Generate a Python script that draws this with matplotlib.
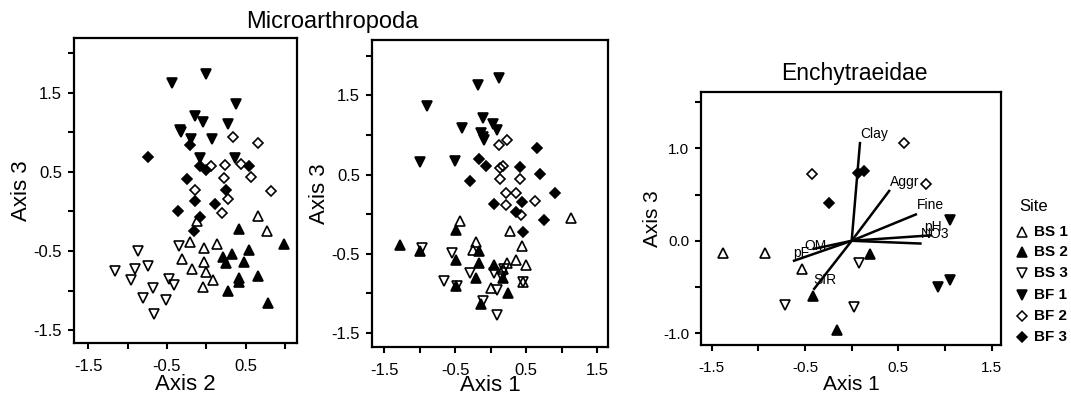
import matplotlib
matplotlib.use('Agg')
import matplotlib.pyplot as plt
from matplotlib.lines import Line2D

plt.rcParams['font.family'] = ['Liberation Sans', 'DejaVu Sans']
plt.rcParams['axes.unicode_minus'] = False

# Sites and their symbols
sites = ['BS 1', 'BS 2', 'BS 3', 'BF 1', 'BF 2', 'BF 3']
markers = ['^', '^', 'v', 'v', 'D', 'D']
filled = [False, True, False, True, False, True]

# Microarthropoda: Axis 2 (x) vs Axis 3 (y), one list per site
p1_x = [
    [0.66, 0.77, -0.21, -0.03, 0.13, -0.31, -0.03, -0.18, 0.00, 0.08, -0.04, -0.12],
    [0.42, 0.98, 0.54, 0.21, 0.32, 0.25, 0.48, 0.66, 0.42, 0.41, 0.28, 0.78],
    [-1.16, -0.87, -0.74, -0.90, -0.96, -0.68, -0.80, -0.51, -0.66, -0.47, -0.41, -0.35],
    [-0.43, -0.01, 0.38, -0.15, -0.04, 0.28, -0.34, -0.32, -0.20, 0.07, -0.08, 0.36],
    [0.34, 0.65, 0.06, 0.24, 0.44, 0.23, 0.56, -0.14, 0.82, 0.27, 0.20],
    [-0.74, -0.21, -0.08, 0.00, -0.24, 0.54, 0.25, -0.14, 0.11, -0.36, -0.08, -0.16],
]
p1_y = [
    [-0.06, -0.25, -0.38, -0.46, -0.41, -0.60, -0.64, -0.73, -0.77, -0.87, -0.95, -0.12],
    [-0.22, -0.41, -0.48, -0.58, -0.54, -0.65, -0.64, -0.82, -0.84, -0.89, -1.00, -1.16],
    [-0.75, -0.50, -0.69, -0.73, -0.87, -0.97, -1.09, -1.12, -1.29, -0.85, -0.93, -0.44],
    [1.62, 1.73, 1.36, 1.21, 1.13, 1.10, 1.03, 1.00, 0.92, 0.92, 0.68, 0.67],
    [0.94, 0.86, 0.58, 0.59, 0.60, 0.42, 0.43, 0.27, 0.26, 0.16, -0.02],
    [0.69, 0.84, 0.57, 0.52, 0.41, 0.57, 0.27, 0.13, 0.10, 0.01, -0.07, -0.25],
]

# Microarthropoda: Axis 1 (x) vs Axis 3 (y)
p2_x = [
    [-0.43, 1.13, 0.27, -0.21, -0.25, 0.44, 0.36, 0.50, 0.23, 0.01, 0.45, 0.18],
    [-1.27, -1.00, -0.49, -0.49, -0.17, -0.16, -0.21, 0.05, 0.18, 0.24, -0.14, -0.49],
    [-0.97, -0.55, -0.66, -0.29, 0.04, 0.19, 0.09, -0.11, 0.09, 0.45, -0.48, 0.16],
    [-0.90, -0.40, -0.18, 0.12, -0.11, 0.03, 0.09, -0.13, -0.10, -0.99, -0.50, -0.11],
    [0.23, 0.11, 0.18, 0.13, 0.13, 0.41, 0.21, 0.36, 0.21, 0.62, 0.42],
    [0.65, 0.69, 0.41, -0.17, -0.06, -0.29, 0.04, 0.44, 0.36, 0.91, 0.75, 0.46],
]
p2_y = [
    [-0.09, -0.05, -0.22, -0.35, -0.45, -0.40, -0.58, -0.64, -0.62, -0.93, -0.86, -0.70],
    [-0.39, -0.47, -0.20, -0.58, -0.47, -0.62, -0.81, -0.64, -0.81, -1.00, -1.14, -0.91],
    [-0.43, -0.49, -0.84, -0.75, -0.75, -0.69, -0.96, -1.10, -1.28, -0.86, -0.91, -0.79],
    [1.37, 1.09, 1.63, 1.72, 1.22, 1.14, 1.06, 1.03, 0.93, 0.66, 0.67, 0.98],
    [0.94, 0.87, 0.61, 0.58, 0.44, 0.44, 0.27, 0.27, 0.11, 0.17, -0.01],
    [0.84, 0.51, 0.59, 0.70, 0.61, 0.42, 0.13, 0.15, 0.02, 0.27, -0.07, -0.23],
]

# Enchytraeidae: Axis 1 (x) vs Axis 3 (y)
p3_x = [
    [-1.38, -0.93, -0.53],
    [0.20, -0.41, -0.16],
    [-0.71, 0.08, 0.02],
    [1.05, 0.93, 1.05],
    [-0.42, 0.56, 0.80],
    [-0.24, 0.07, 0.13],
]
p3_y = [
    [-0.13, -0.13, -0.31],
    [-0.14, -0.60, -0.96],
    [-0.69, -0.24, -0.72],
    [0.23, -0.50, -0.42],
    [0.72, 1.06, 0.61],
    [0.41, 0.73, 0.76],
]

# Environmental vectors (biplot)
env_names = ['Clay', 'Aggr', 'Fine', 'pH', 'NO3', 'OM', 'pF', 'SIR']
env_x = [0.09, 0.41, 0.70, 0.86, 0.75, -0.42, -0.63, -0.41]
env_y = [1.07, 0.55, 0.29, 0.06, -0.03, -0.09, -0.22, -0.53]
env_lx = [0.24, 0.57, 0.84, 0.87, 0.89, -0.39, -0.54, -0.29]
env_ly = [1.16, 0.64, 0.39, 0.15, 0.07, -0.06, -0.13, -0.42]


def draw_sites(ax, xs, ys, tri_size, dia_size):
    for i in range(len(sites)):
        ms = dia_size if markers[i] == 'D' else tri_size
        ax.plot(xs[i], ys[i], linestyle='none', marker=markers[i], ms=ms,
                mfc='black' if filled[i] else 'none', mec='black', mew=1.2)


def style_axes(ax, xticks, xlab, yticks, ylab, size):
    ax.set_xticks(xticks)
    ax.set_xticklabels(xlab)
    ax.set_yticks(yticks)
    ax.set_yticklabels(ylab)
    ax.tick_params(direction='out', length=4.5, width=1.5, labelsize=size)
    ax.tick_params(axis='x', pad=7)
    ax.tick_params(axis='y', pad=4)
    for s in ax.spines.values():
        s.set_linewidth(1.6)


fig = plt.figure(figsize=(10.71, 3.98), dpi=100)

ticks = [-1.5, -1.0, -0.5, 0.0, 0.5, 1.0, 1.5, 2.0]
odd = ['-1.5', '', '-0.5', '', '0.5', '', '1.5', '']

# Panel 1
ax1 = fig.add_axes([0.0691, 0.1382, 0.2082, 0.7663])
draw_sites(ax1, p1_x, p1_y, 7.6, 5.4)
ax1.set_xlim(-1.68, 1.15)
ax1.set_ylim(-1.66, 2.19)
style_axes(ax1, ticks[:6], odd[:6], ticks, odd, 12)
ax1.set_xlabel('Axis 2', fontsize=16, labelpad=0)
ax1.set_ylabel('Axis 3', fontsize=16, labelpad=1)

# Panel 2
ax2 = fig.add_axes([0.3473, 0.1281, 0.2204, 0.7714])
draw_sites(ax2, p2_x, p2_y, 7.6, 5.4)
ax2.set_xlim(-1.67, 1.65)
ax2.set_ylim(-1.68, 2.20)
style_axes(ax2, ticks[:7], odd[:7], ticks, odd, 12)
ax2.set_xlabel('Axis 1', fontsize=16, labelpad=-2)
ax2.set_ylabel('Axis 3', fontsize=16, labelpad=1)

fig.text(0.3105, 0.9296, 'Microarthropoda', fontsize=17, ha='center', va='baseline')

# Panel 3
ax3 = fig.add_axes([0.6545, 0.1332, 0.2801, 0.6357])
for i in range(len(env_names)):
    ax3.plot([0, env_x[i]], [0, env_y[i]], color='black', lw=1.8, solid_capstyle='butt')
    ax3.text(env_lx[i], env_ly[i], env_names[i], fontsize=10, ha='center', va='center')
draw_sites(ax3, p3_x, p3_y, 7.0, 5.0)
ax3.set_xlim(-1.615, 1.60)
ax3.set_ylim(-1.127, 1.61)
style_axes(ax3, ticks[:7], odd[:7], ticks[1:7],
           ['-1.0', '', '0.0', '', '1.0', ''], 11)
ax3.set_xlabel('Axis 1', fontsize=15, labelpad=0)
ax3.set_ylabel('Axis 3', fontsize=15, labelpad=1)
fig.text(0.798, 0.799, 'Enchytraeidae', fontsize=16.5, ha='center', va='baseline')

# Legend
fig.text(0.952, 0.482, 'Site', fontsize=12, ha='left', va='center')
leg_y = [232, 252, 273, 295, 316, 337]
for i in range(len(sites)):
    yy = 1 - leg_y[i] / 398
    ms = 5.0 if markers[i] == 'D' else 6.6
    fig.add_artist(Line2D([1022 / 1071], [yy], transform=fig.transFigure,
                          marker=markers[i], ms=ms, linestyle='none',
                          mfc='black' if filled[i] else 'none', mec='black', mew=1.1))
    fig.text(1034 / 1071, yy, sites[i], fontsize=11, fontweight='bold',
             ha='left', va='center')

plt.savefig('out.png', dpi=100)
